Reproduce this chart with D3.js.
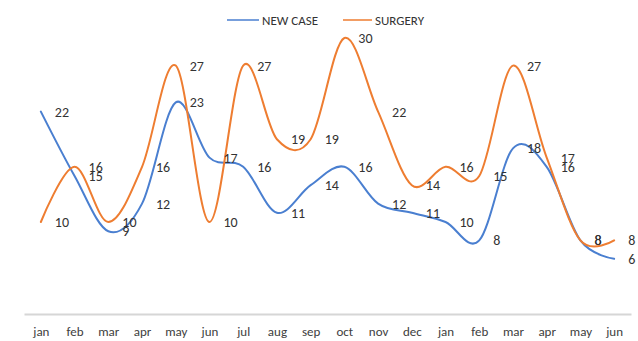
<!DOCTYPE html>
<html>
<head>
<meta charset="utf-8">
<script src="https://cdn.jsdelivr.net/npm/d3@7"></script>
<style>
  html, body { margin: 0; padding: 0; background: #fff; }
  svg text { font-family: Carlito, Lato, "Liberation Sans Narrow", sans-serif; }
</style>
</head>
<body>
<svg id="chart" width="638" height="341"></svg>
<script>
// Monthly counts, two consecutive years (Jan of year 1 to Jun of year 2)
const months = ["jan","feb","mar","apr","may","jun","jul","aug","sep","oct","nov","dec",
                "jan","feb","mar","apr","may","jun"];
const newCase = [22, 15, 9, 12, 23, 17, 16, 11, 14, 16, 12, 11, 10, 8, 18, 16, 8, 6];
const surgery = [10, 16, 10, 16, 27, 10, 27, 19, 19, 30, 22, 14, 16, 15, 27, 17, 8, 8];

const seriesNames = ["NEW CASE", "SURGERY"];
const seriesColors = ["#4a7fd0", "#ee7d31"];

const svg = d3.select("#chart");

const idx = months.map((_, i) => i);
const x = d3.scalePoint().domain(idx).range([24, 631]).padding(0.5);
const y = d3.scaleLinear().domain([0, 30]).range([314, 38]);

// category axis: light baseline and month names
const xAxis = d3.axisBottom(x).tickSize(0).tickPadding(13).tickFormat(i => months[i]);
const gx = svg.append("g").attr("transform", `translate(0,${y(0)})`).call(xAxis);
gx.select(".domain").attr("stroke", "#d6d6d6").attr("stroke-width", 2);
gx.selectAll("text").attr("fill", "#404040").attr("font-size", 13);

const line = d3.line()
  .x((d, i) => x(i))
  .y(d => y(d))
  .curve(d3.curveCardinal.tension(0));

const series = [newCase, surgery];

series.forEach((vals, s) => {
  svg.append("path")
    .datum(vals)
    .attr("fill", "none")
    .attr("stroke", seriesColors[s])
    .attr("stroke-width", 2)
    .attr("stroke-linecap", "round")
    .attr("d", line);
});

// value labels to the right of each point
series.forEach((vals, s) => {
  svg.append("g").selectAll("text")
    .data(vals)
    .join("text")
    .attr("x", (d, i) => x(i) + 14)
    .attr("y", d => y(d))
    .attr("dy", "0.35em")
    .attr("fill", "#333")
    .attr("font-size", 14)
    .text(d => d);
});

// legend
const legend = svg.append("g").attr("transform", "translate(227,20)");
const legendItems = [{ x: 0, w: 32 }, { x: 116, w: 29 }];
seriesNames.forEach((name, s) => {
  const g = legend.append("g").attr("transform", `translate(${legendItems[s].x},0)`);
  g.append("line")
    .attr("x1", 0).attr("x2", legendItems[s].w)
    .attr("y1", 0).attr("y2", 0)
    .attr("stroke", seriesColors[s]).attr("stroke-width", 1.5);
  g.append("text")
    .attr("x", legendItems[s].w + 3)
    .attr("dy", "0.35em")
    .attr("fill", "#333")
    .attr("font-size", 13)
    .text(name);
});
</script>
</body>
</html>
